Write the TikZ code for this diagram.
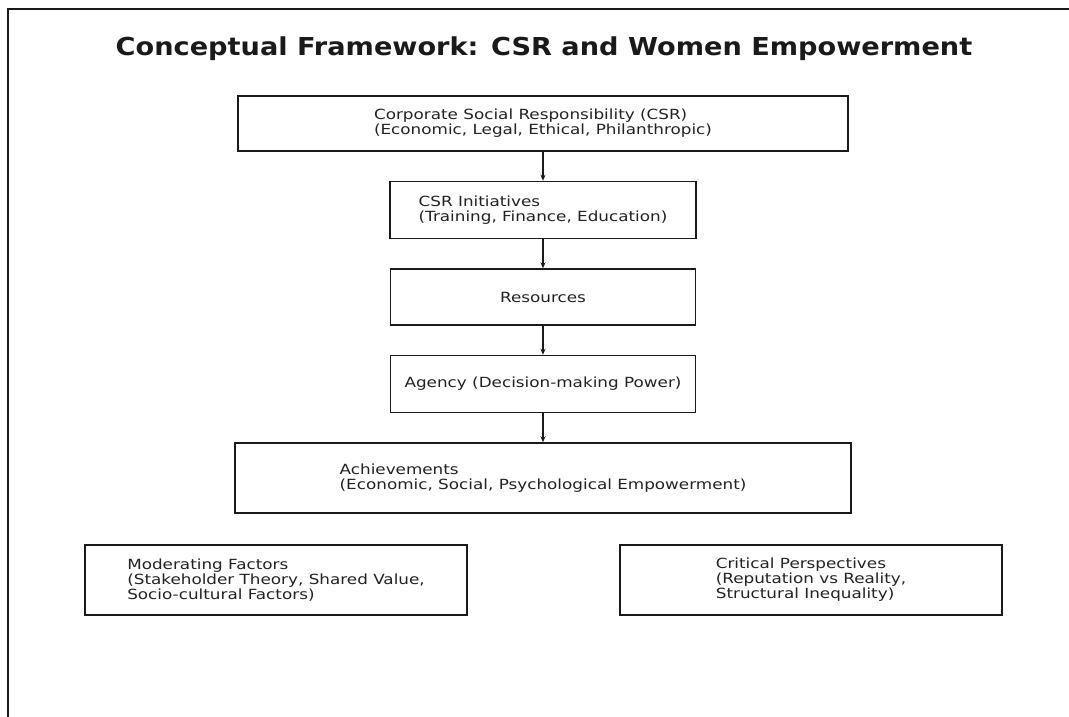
\documentclass[tikz,border=0pt]{standalone}
\usepackage{fontspec}
\setmainfont{DejaVu Sans}
\newfontfamily\boxfont[FakeStretch=1.2]{DejaVu Sans}
\newfontfamily\headfont[FakeStretch=1.1]{DejaVu Sans}
\usetikzlibrary{arrows.meta,positioning}
\definecolor{inkline}{HTML}{1A1A1A}
\definecolor{inktext}{HTML}{222222}
\tikzset{
  framebox/.style={
    draw=inkline,
    line width=1.5pt,
    align=left,
    inner sep=4pt,
    font=\boxfont\fontsize{14}{15}\selectfont,
    text=inktext
  },
  flowarrow/.style={-{Stealth[length=6pt,width=5pt]}, line width=1.5pt, draw=inkline},
  titletext/.style={font=\headfont\bfseries\fontsize{24.7}{28}\selectfont, text=inkline}
}

\begin{document}
\begin{tikzpicture}[x=1pt, y=-1pt, node distance=29pt]
\useasboundingbox (0,0) rectangle (1069,717);
\draw[line width=2pt, draw=inkline] (1069,9) -| (8,717);
\node[titletext, anchor=base] (title) at (544,55.5) {Conceptual Framework: CSR and Women Empowerment};

\node[framebox, minimum width=610pt, minimum height=55pt] (csr) at (543,123.5) {Corporate Social Responsibility (CSR)\\(Economic, Legal, Ethical, Philanthropic)};
\node[framebox, below=of csr, minimum width=306pt, minimum height=57pt] (init) {CSR Initiatives\\(Training, Finance, Education)};
\node[framebox, below=of init, minimum width=305pt, minimum height=56pt] (res) {Resources};
\node[framebox, below=of res, minimum width=305pt, minimum height=57pt] (agency) {Agency (Decision-making Power)};
\node[framebox, below=of agency, minimum width=616pt, minimum height=70pt] (achieve) {Achievements\\(Economic, Social, Psychological Empowerment)};

\node[framebox, minimum width=382pt, minimum height=70pt] (moderate) at (276,580) {Moderating Factors\\(Stakeholder Theory, Shared Value,\\Socio-cultural Factors)};
\node[framebox, minimum width=382pt, minimum height=70pt] (critical) at (811,580) {Critical Perspectives\\(Reputation vs Reality,\\Structural Inequality)};

\draw[flowarrow] (csr) -- (init);
\draw[flowarrow] (init) -- (res);
\draw[flowarrow] (res) -- (agency);
\draw[flowarrow] (agency) -- (achieve);
\end{tikzpicture}
\end{document}
